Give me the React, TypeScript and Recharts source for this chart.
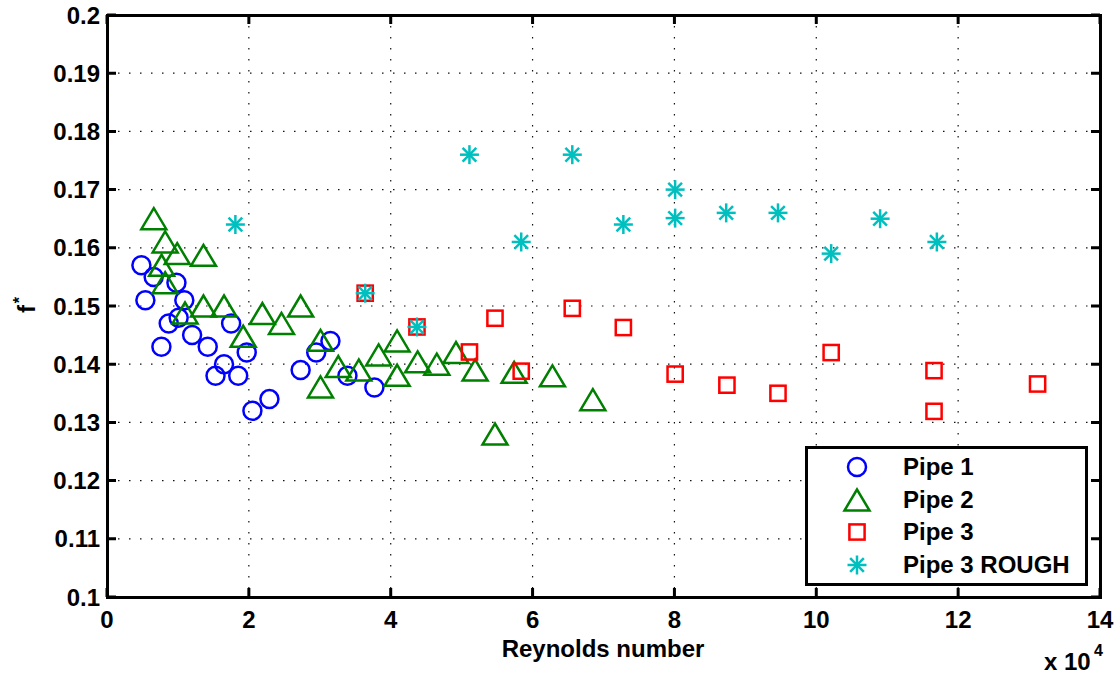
import React from 'react';
import {
  ScatterChart,
  Scatter,
  XAxis,
  YAxis,
  CartesianGrid,
  Legend,
  Label,
} from 'recharts';

// Reynolds numbers and friction factor f*
const pipe1Re = [4850, 6580, 9790, 5410, 10900, 8700, 10100, 7670, 12000, 14200, 17500, 19700, 16500, 15300, 18500, 20500, 22900, 27300, 29500, 31500, 33900, 37700];
const pipe1F = [0.157, 0.155, 0.154, 0.151, 0.151, 0.147, 0.148, 0.143, 0.145, 0.143, 0.147, 0.142, 0.14, 0.138, 0.138, 0.132, 0.134, 0.139, 0.142, 0.144, 0.138, 0.136];

const pipe2Re = [6600, 8200, 9900, 13600, 7700, 8200, 11000, 13600, 16500, 19200, 21900, 24600, 27300, 30100, 32600, 35500, 38300, 30100, 40900, 40900, 43800, 46500, 49200, 51900, 54700, 57400, 62800, 68500];
const pipe2F = [0.165, 0.161, 0.159, 0.1587, 0.157, 0.154, 0.1488, 0.15, 0.15, 0.1448, 0.1487, 0.147, 0.15, 0.1441, 0.1396, 0.139, 0.1416, 0.1361, 0.144, 0.1381, 0.1404, 0.14, 0.142, 0.139, 0.128, 0.1386, 0.138, 0.1339];

const pipe3Re = [36400, 43700, 54700, 51100, 58400, 65600, 72800, 80100, 87400, 94600, 102100, 116600, 116600, 131200];
const pipe3F = [0.1522, 0.1464, 0.1479, 0.1421, 0.1388, 0.1496, 0.1463, 0.1383, 0.1364, 0.135, 0.142, 0.1389, 0.1319, 0.1366];

const roughRe = [18100, 36400, 43700, 51100, 58400, 65600, 72800, 80100, 80100, 87300, 94600, 102100, 109000, 117000];
const roughF = [0.164, 0.1522, 0.1464, 0.176, 0.161, 0.176, 0.164, 0.17, 0.1651, 0.166, 0.166, 0.159, 0.165, 0.161];

const xTicks = [0, 20000, 40000, 60000, 80000, 100000, 120000, 140000];
const yTicks = [0.1, 0.11, 0.12, 0.13, 0.14, 0.15, 0.16, 0.17, 0.18, 0.19, 0.2];

const seriesNames = ['Pipe 1', 'Pipe 2', 'Pipe 3', 'Pipe 3 ROUGH'];

const toPoints = (re: number[], f: number[]) => re.map((r, i) => ({ re: r, f: f[i] }));

const BLUE = '#0000ff';
const GREEN = '#008000';
const RED = '#ff0000';
const CYAN = '#00bfbf';
const FONT = '"Liberation Sans", Arial, Helvetica, sans-serif';
const SW = 2.5;

// plot box edges (px), for the box and the mirrored inward ticks
const PLOT_TOP = 15;
const PLOT_LEFT = 107;
const PLOT_RIGHT = 1100;
const PLOT_BOTTOM = 597;
const TICK_LEN = 9;
const FRAME_W = 3;

const CircleMark = ({ cx, cy }: any) => (
  <circle cx={cx} cy={cy} r={9} fill="none" stroke={BLUE} strokeWidth={SW} />
);

const TriangleMark = ({ cx, cy }: any) => (
  <polygon
    points={`${cx},${cy - 10.5} ${cx - 12.5},${cy + 10.5} ${cx + 12.5},${cy + 10.5}`}
    fill="none"
    stroke={GREEN}
    strokeWidth={SW}
  />
);

const SquareMark = ({ cx, cy }: any) => (
  <rect x={cx - 7.6} y={cy - 7.6} width={15.2} height={15.2} fill="none" stroke={RED} strokeWidth={SW} />
);

const StarMark = ({ cx, cy }: any) => {
  const r = 9.5;
  const d = r * 0.72;
  return (
    <g stroke={CYAN} strokeWidth={SW}>
      <line x1={cx - r} y1={cy} x2={cx + r} y2={cy} />
      <line x1={cx} y1={cy - r} x2={cx} y2={cy + r} />
      <line x1={cx - d} y1={cy - d} x2={cx + d} y2={cy + d} />
      <line x1={cx - d} y1={cy + d} x2={cx + d} y2={cy - d} />
    </g>
  );
};

const markers = [CircleMark, TriangleMark, SquareMark, StarMark];

const LegendBox = () => (
  <div
    style={{
      position: 'relative',
      width: 283,
      height: 140,
      border: '3px solid #000',
      boxSizing: 'border-box',
      background: '#fff',
      fontFamily: FONT,
      fontWeight: 700,
      fontSize: 24,
      color: '#000',
    }}
  >
    {seriesNames.map((name, i) => {
      const Mark = markers[i];
      const cy = 18 + i * 32.7;
      return (
        <React.Fragment key={name}>
          <svg width={30} height={30} style={{ position: 'absolute', left: 34, top: cy - 15 }}>
            <Mark cx={15} cy={15} />
          </svg>
          <div style={{ position: 'absolute', left: 95, top: cy - 14, lineHeight: '28px', whiteSpace: 'nowrap' }}>
            {name}
          </div>
        </React.Fragment>
      );
    })}
  </div>
);

const yFmt = (v: number) => String(Number(v.toFixed(2)));
const xFmt = (v: number) => String(v / 10000);

// the axes box, drawn as one black rectangle outline
const Frame = () => (
  <rect
    x={PLOT_LEFT + 0.5}
    y={PLOT_TOP + 0.5}
    width={PLOT_RIGHT - PLOT_LEFT}
    height={PLOT_BOTTOM - PLOT_TOP}
    fill="none"
    stroke="#000"
    strokeWidth={FRAME_W}
  />
);

// tick label plus inward tick marks on bottom and top
const XTick = ({ x, y, payload }: any) => (
  <g>
    <path
      d={`M${x},${y} v${-TICK_LEN} M${x},${PLOT_TOP} v${TICK_LEN}`}
      fill="none"
      stroke="#000"
      strokeWidth={FRAME_W}
    />
    <text x={x} y={y + 31} textAnchor="middle" fontFamily={FONT} fontWeight={700} fontSize={24} fill="#000">
      {xFmt(payload.value)}
    </text>
  </g>
);

// tick label plus inward tick marks on left and right
const YTick = ({ x, y, payload }: any) => (
  <g>
    <path
      d={`M${x},${y} h${TICK_LEN} M${PLOT_RIGHT},${y} h${-TICK_LEN}`}
      fill="none"
      stroke="#000"
      strokeWidth={FRAME_W}
    />
    <text x={x - 7} y={y} dy="0.36em" textAnchor="end" fontFamily={FONT} fontWeight={700} fontSize={24} fill="#000">
      {yFmt(payload.value)}
    </text>
  </g>
);

export default function App() {
  const data = [
    toPoints(pipe1Re, pipe1F),
    toPoints(pipe2Re, pipe2F),
    toPoints(pipe3Re, pipe3F),
    toPoints(roughRe, roughF),
  ];

  return (
    <div style={{ position: 'absolute', left: 0, top: 0, background: '#fff' }}>
      <ScatterChart
        width={1120}
        height={674}
        margin={{ top: PLOT_TOP, right: 1120 - PLOT_RIGHT, bottom: 0, left: 0 }}
      >
        <CartesianGrid stroke="#111" strokeWidth={1.2} strokeDasharray="1.5 9.5" />
        <XAxis
          type="number"
          dataKey="re"
          domain={[0, 140000]}
          ticks={xTicks}
          interval={0}
          height={674 - PLOT_BOTTOM}
          tickSize={0}
          tickMargin={0}
          tick={<XTick />}
          axisLine={false}
          tickLine={false}
          allowDataOverflow
        >
          <Label
            content={() => (
              <g fontFamily={FONT} fontWeight={700} fill="#000">
                <Frame />
                <text x={603} y={657} textAnchor="middle" fontSize={24}>
                  Reynolds number
                </text>
                <text x={1044} y={670} fontSize={24}>
                  x 10
                </text>
                <text x={1094} y={656} fontSize={16}>
                  4
                </text>
              </g>
            )}
          />
        </XAxis>
        <YAxis
          type="number"
          dataKey="f"
          domain={[0.1, 0.2]}
          ticks={yTicks}
          interval={0}
          width={PLOT_LEFT}
          tickSize={0}
          tickMargin={0}
          tick={<YTick />}
          axisLine={false}
          tickLine={false}
          allowDataOverflow
        >
          <Label
            content={() => (
              <text
                transform="translate(35,305) rotate(-90)"
                textAnchor="middle"
                fontFamily={FONT}
                fontWeight={700}
                fontSize={24}
                fill="#000"
              >
                f
                <tspan dy={-10} dx={2} fontSize={16}>
                  *
                </tspan>
              </text>
            )}
          />
        </YAxis>
        <Legend
          layout="horizontal"
          verticalAlign="middle"
          align="center"
          content={() => <LegendBox />}
          wrapperStyle={{ position: 'absolute', left: 805, top: 446, width: 283, height: 140 }}
        />
        {data.map((pts, i) => (
          <Scatter
            key={seriesNames[i]}
            name={seriesNames[i]}
            data={pts}
            isAnimationActive={false}
            shape={(p: any) => {
              const Mark = markers[i];
              return <Mark cx={p.cx} cy={p.cy} />;
            }}
          />
        ))}
      </ScatterChart>
    </div>
  );
}
